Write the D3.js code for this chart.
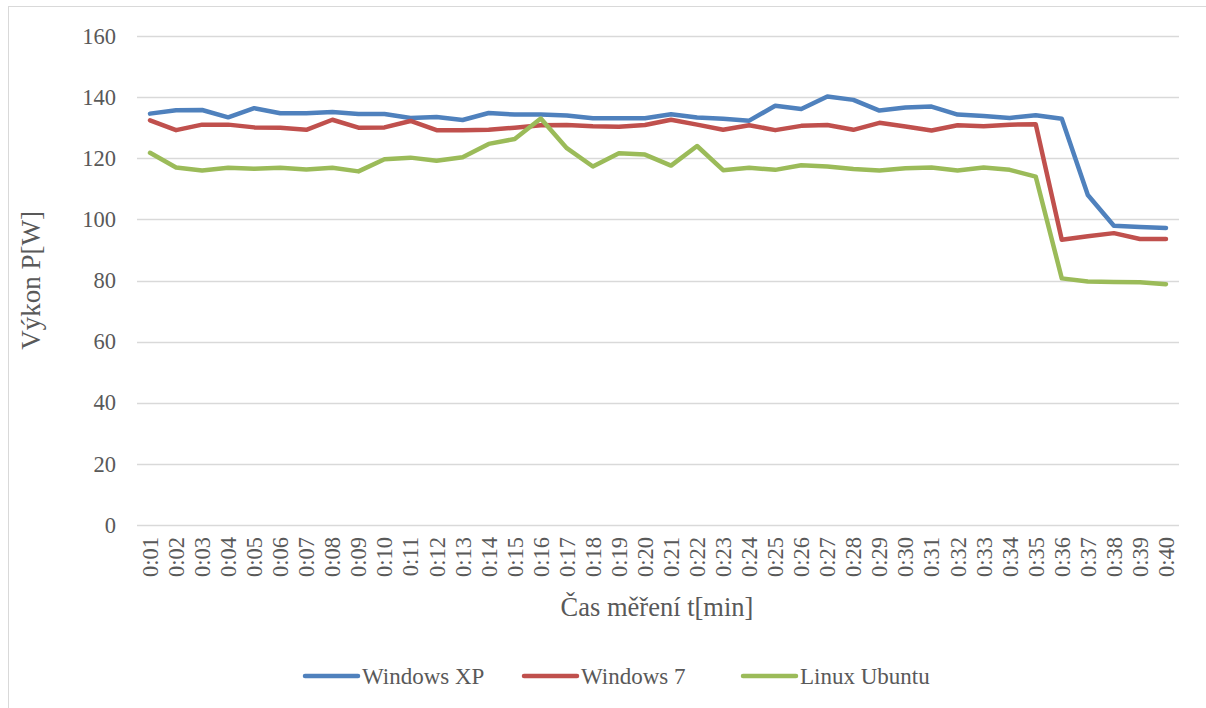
<!DOCTYPE html>
<html>
<head>
<meta charset="utf-8">
<script src="https://cdn.jsdelivr.net/npm/d3@7"></script>
<style>
  html, body { margin: 0; padding: 0; background: #fff; }
  svg { display: block; }
  text { font-family: "Liberation Serif", "Times New Roman", serif; fill: #595959; }
</style>
</head>
<body>
<svg id="chart" width="1206" height="708"></svg>
<script>
const categories = ["0:01","0:02","0:03","0:04","0:05","0:06","0:07","0:08","0:09","0:10",
  "0:11","0:12","0:13","0:14","0:15","0:16","0:17","0:18","0:19","0:20",
  "0:21","0:22","0:23","0:24","0:25","0:26","0:27","0:28","0:29","0:30",
  "0:31","0:32","0:33","0:34","0:35","0:36","0:37","0:38","0:39","0:40"];

const windowsXP = [134.6,135.7,135.8,133.4,136.4,134.7,134.7,135.1,134.5,134.5,
  133.2,133.5,132.5,134.8,134.3,134.3,134.0,133.1,133.1,133.1,
  134.4,133.3,132.9,132.3,137.2,136.1,140.2,139.1,135.6,136.6,
  136.9,134.3,133.8,133.2,134.1,132.9,108.0,97.9,97.5,97.2];

const windows7 = [132.4,129.2,131.0,131.0,130.1,130.0,129.3,132.6,130.0,130.1,
  132.2,129.2,129.2,129.3,130.0,130.8,130.9,130.5,130.3,130.9,
  132.6,131.0,129.3,130.8,129.2,130.6,130.9,129.3,131.6,130.4,
  129.1,130.8,130.5,131.0,131.1,93.3,94.5,95.5,93.6,93.6];

const linuxUbuntu = [121.8,117.0,116.0,116.9,116.6,116.9,116.3,116.9,115.7,119.7,
  120.2,119.2,120.3,124.7,126.3,133.0,123.3,117.3,121.6,121.2,
  117.6,124.0,116.1,116.9,116.2,117.7,117.3,116.5,116.0,116.7,
  117.0,116.0,117.0,116.2,114.0,80.7,79.7,79.5,79.4,78.8];

const yTicks = [0,20,40,60,80,100,120,140,160];

const seriesNames = ["Windows XP","Windows 7","Linux Ubuntu"];
const seriesColors = ["#4F81BD","#C0504D","#9BBB59"];
const seriesValues = [windowsXP, windows7, linuxUbuntu];

const svg = d3.select("#chart");
const W = 1206, H = 708;
const plot = { left: 137, right: 1179, top: 36, bottom: 525 };

// outer border
svg.append("rect")
  .attr("x", 8.5).attr("y", 6.5)
  .attr("width", W).attr("height", H)
  .attr("fill", "none").attr("stroke", "#d9d9d9").attr("stroke-width", 1);

const x = d3.scalePoint().domain(categories).range([plot.left, plot.right]).padding(0.5);
const y = d3.scaleLinear().domain([0,160]).range([plot.bottom, plot.top]);

// gridlines
svg.append("g").selectAll("line").data(yTicks).join("line")
  .attr("x1", plot.left).attr("x2", plot.right)
  .attr("y1", d => Math.round(y(d)) + 0.5).attr("y2", d => Math.round(y(d)) + 0.5)
  .attr("stroke", "#d9d9d9").attr("stroke-width", 1.3);

// y axis labels
const yAxis = d3.axisLeft(y).tickValues(yTicks).tickSize(0).tickPadding(21);
const gy = svg.append("g").attr("transform", `translate(${plot.left},0)`).call(yAxis);
gy.select(".domain").remove();
gy.selectAll("text").style("font-size", "22.5px").attr("fill", "#595959")
  .style("font-family", '"Liberation Serif", "Times New Roman", serif');

// x axis labels (rotated)
const xAxis = d3.axisBottom(x).tickSize(0).tickPadding(0);
const gx = svg.append("g").attr("transform", `translate(0,${plot.bottom})`).call(xAxis);
gx.select(".domain").remove();
gx.selectAll("text")
  .style("font-size", "22.5px").attr("fill", "#595959")
  .style("font-family", '"Liberation Serif", "Times New Roman", serif')
  .attr("text-anchor", "end")
  .attr("transform", "rotate(-90)")
  .attr("x", -12).attr("y", 0).attr("dy", "0.33em");

// lines
const line = d3.line().x((d,i) => x(categories[i])).y(d => y(d));
seriesValues.forEach((vals, k) => {
  svg.append("path").datum(vals)
    .attr("d", line)
    .attr("fill", "none")
    .attr("stroke", seriesColors[k])
    .attr("stroke-width", 4.5)
    .attr("stroke-linejoin", "round")
    .attr("stroke-linecap", "round");
});

// axis titles
svg.append("text")
  .attr("x", (plot.left + plot.right) / 2 - 1).attr("y", 616)
  .attr("text-anchor", "middle").style("font-size", "26.5px")
  .text("Čas měření t[min]");

svg.append("text")
  .attr("transform", `translate(40,${(plot.top + plot.bottom) / 2}) rotate(-90)`)
  .attr("text-anchor", "middle").style("font-size", "27px")
  .text("Výkon P[W]");

// legend
const legendX = [303, 522, 741];
const legend = svg.append("g");
seriesNames.forEach((name, k) => {
  const g = legend.append("g").attr("transform", `translate(${legendX[k]},676)`);
  g.append("line").attr("x1", 2).attr("x2", 55).attr("y1", 0).attr("y2", 0)
    .attr("stroke", seriesColors[k]).attr("stroke-width", 4.5).attr("stroke-linecap", "round");
  g.append("text").attr("x", 59).attr("y", 0).attr("dy", "0.33em")
    .style("font-size", "23px").text(name);
});
</script>
</body>
</html>
